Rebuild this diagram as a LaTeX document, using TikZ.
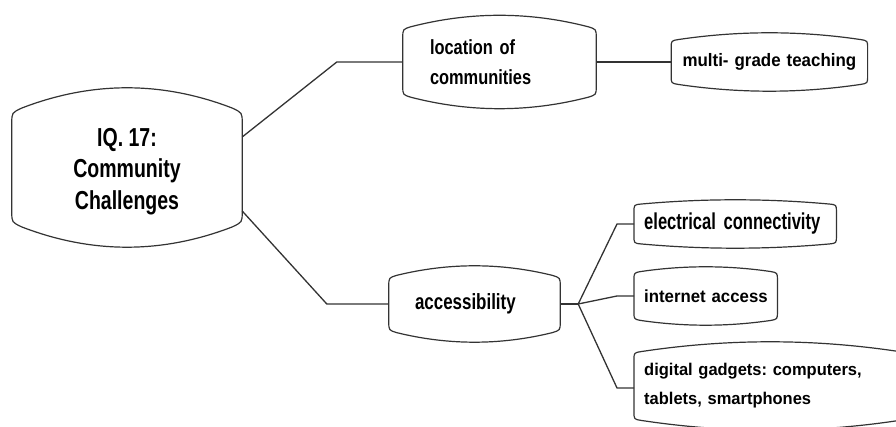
\documentclass[tikz,border=0pt]{standalone}
\usepackage{fontspec}
\setmainfont{Liberation Sans}
\usetikzlibrary{calc,positioning}

% bold label: size, baselineskip, horizontal squeeze
\newcommand\lbl[3]{\bfseries\fontsize{#1}{#2}\selectfont\addfontfeatures{FakeStretch=#3}%
  \fontdimen2\font=.21em\fontdimen7\font=0pt\frenchspacing\hyphenpenalty=10000\relax}

% rounded box with bowed top and bottom: node, bulge, corner (pt)
\newcommand\pillow[3]{%
  \draw[boxline] let \p1=(#1.north west), \p2=(#1.south east),
      \n1={4*#2*#3/(\x2-\x1-2*#3)}, \n2={(\x2-\x1-2*#3)/3}, \n3={4*(#2-\n1)/3} in
    (\x1,\y1-#3) -- (\x1,\y2+#3)
    .. controls (\x1,\y2) .. (\x1+#3,\y2-\n1)
    .. controls +(\n2,-\n3) and +(-\n2,-\n3) .. (\x2-#3,\y2-\n1)
    .. controls (\x2,\y2) .. (\x2,\y2+#3)
    -- (\x2,\y1-#3)
    .. controls (\x2,\y1) .. (\x2-#3,\y1+\n1)
    .. controls +(-\n2,\n3) and +(\n2,\n3) .. (\x1+#3,\y1+\n1)
    .. controls (\x1,\y1) .. cycle;
}

\begin{document}
\begin{tikzpicture}[x=1pt, y=1pt,
        boxline/.style={draw=black!80, line width=1.2pt},
        link/.style={draw=black!80, line width=1.3pt},
        topic/.style={inner xsep=#1, inner ysep=0pt, align=left},
        leaf/.style={topic=10pt, anchor=west},]
    \useasboundingbox (0,0) rectangle (896,427);

    \node (root) [inner sep=0pt, minimum width=230pt, minimum height=109pt, align=center,
        font=\lbl{26}{31.5}{0.75}] at (127,259.5)
        {\\[-5pt]IQ. 17:\\Community\\Challenges};

    \node (loc) [topic=27pt, text width=139pt, minimum height=65pt,
        font=\lbl{20.5}{30}{0.8}] at (499.5,365)
        {location of\\communities};
    \node (multi) [topic=8pt, text width=180pt, minimum height=42pt, align=center,
        font=\lbl{18}{22}{0.94}, right=75pt of loc]
        {multi- grade teaching};

    \node (acc) [topic=26pt, text width=119pt, minimum height=52pt,
        font=\lbl{22}{26}{0.77}] at (474.5,123)
        {accessibility};

    \node (elec) [leaf, text width=182pt, minimum height=38pt,
        font=\lbl{23}{27}{0.72}] at (634,203)
        {electrical connectivity};
    \node (inet) [leaf, text width=123pt, minimum height=46pt,
        font=\lbl{17.5}{21}{0.96}] at (634,131)
        {\mbox{internet access}};
    \node (dig) [leaf, text width=252pt, minimum height=66pt,
        font=\lbl{17}{29}{0.97}] at (634,41)
        {digital gadgets: computers,\\tablets, smartphones};

    % branches
    \draw[link] ([yshift=30.5pt]root.east) -- ([xshift=-66pt]loc.west) -- (loc.west);
    \draw[link] ([yshift=-43.5pt]root.east) -- ([xshift=-62pt]acc.west) -- (acc.west);
    \draw[link] (loc.east) -- (multi.west);

    \coordinate (hub) at ([xshift=18pt]acc.east);
    \draw[link] (acc.east) -- (hub);
    \foreach \n in {elec,inet}
        \draw[link] (hub) -- ([xshift=-17pt]\n.west) -- (\n.west);
    \draw[link] (hub) -- ([xshift=-17pt,yshift=-2pt]dig.west) -- ([yshift=-2pt]dig.west);

    % outlines
    \pillow{root}{25}{10}
    \pillow{loc}{14}{8}
    \pillow{multi}{8}{7}
    \pillow{acc}{12}{8}
    \pillow{elec}{5}{7}
    \pillow{inet}{6}{7}
    \pillow{dig}{11}{7}
\end{tikzpicture}
\end{document}
